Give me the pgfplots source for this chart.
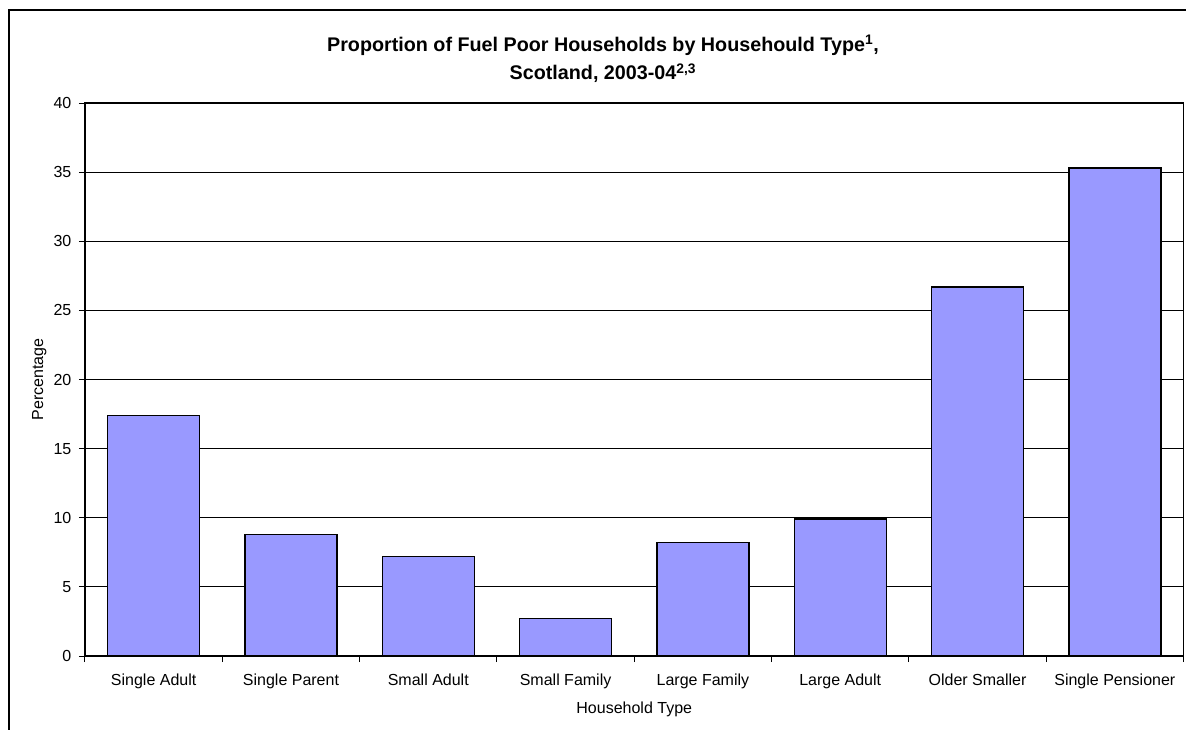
\documentclass[border=0pt]{standalone}
\usepackage{fontspec}
\setmainfont{Liberation Sans}
\usepackage{pgfplots}
\pgfplotsset{compat=1.18}
\definecolor{barblue}{RGB}{153,153,255}
\begin{document}
\begin{tikzpicture}
\useasboundingbox (0pt,0pt) rectangle (889.5pt,546.75pt);
\clip (0pt,0pt) rectangle (889.5pt,546.75pt);
% outer chart frame (right/bottom edges fall outside the picture)
\draw[line width=1.5pt] (6.375pt,-20pt) rectangle (920pt,539.6pt);
% title
\node[anchor=base, font=\fontsize{14.8pt}{17pt}\selectfont\bfseries, inner sep=0pt]
  at (452.25pt,508pt) {Proportion of Fuel Poor Households by Househould Type\textsuperscript{1},};
\node[anchor=base, font=\fontsize{14.8pt}{17pt}\selectfont\bfseries, inner sep=0pt]
  at (452.25pt,486.75pt) {Scotland, 2003-04\textsuperscript{2,3}};
\begin{axis}[
  at={(63.75pt,54.75pt)}, anchor=south west,
  scale only axis, width=823.875pt, height=414.75pt,
  xmin=-0.5, xmax=7.5, ymin=0, ymax=40,
  ytick={0,5,...,40},
  xtick={-0.5,0.5,...,7.5}, xticklabels={},
  extra x ticks={0,1,2,3,4,5,6,7},
  extra x tick labels={Single Adult,Single Parent,Small Adult,Small Family,Large Family,Large Adult,Older Smaller,Single Pensioner},
  extra x tick style={major tick length=0pt},
  tick pos=left,
  tick align=outside, major tick length=4.5pt,
  tick style={black, line width=0.75pt},
  ymajorgrids, major grid style={black, line width=0.75pt},
  axis line style={black, line width=1.1pt},
  /pgf/number format/assume math mode=true,
  ticklabel style={font=\fontsize{12pt}{14pt}\selectfont},
  xticklabel style={anchor=base, inner sep=0pt, yshift=-21.75pt},
  yticklabel style={anchor=east, inner sep=0pt, xshift=-5.5pt},
  xlabel={Household Type}, ylabel={Percentage},
  label style={font=\fontsize{12pt}{14pt}\selectfont},
  xlabel style={at={(axis description cs:0.5,0)}, anchor=base, inner sep=0pt, yshift=-42.75pt},
  ylabel style={at={(axis description cs:0,0.5)}, anchor=base, inner sep=0pt, yshift=31.35pt},
  ybar, bar width=0.67,
]
\addplot[ybar, fill=barblue, draw=black, line width=1pt] coordinates {
  (0,17.4) (1,8.8) (2,7.2) (3,2.7) (4,8.2) (5,9.9) (6,26.7) (7,35.3)
};
\end{axis}
\end{tikzpicture}
\end{document}
